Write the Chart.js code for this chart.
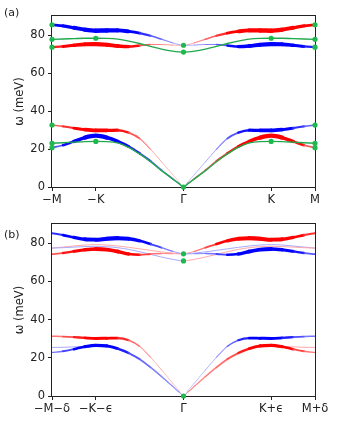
<!DOCTYPE html>
<html>
<head>
<meta charset="utf-8">
<script src="https://cdn.jsdelivr.net/npm/chart.js@4"></script>
<style>
  body { margin: 0; background: #fff; }
  #wrap { position: relative; width: 342px; height: 421px; }
  canvas { position: absolute; left: 0; }
</style>
</head>
<body>
<div id="wrap">
  <canvas id="chartA" width="342" height="210" style="top:0"></canvas>
  <canvas id="chartB" width="342" height="211" style="top:210px"></canvas>
</div>
<script>
// k-path: Γ at 0, K at ±1, M at ±1.5
const kx = [-1.5, -1.375, -1.25, -1.125, -1, -0.875, -0.75, -0.625, -0.5, -0.375, -0.25, -0.125, -0.05, 0,
            0.05, 0.125, 0.25, 0.375, 0.5, 0.625, 0.75, 0.875, 1, 1.125, 1.25, 1.375, 1.5];
const kTicks = [-1.5, -1, 0, 1, 1.5];
const kLabelsA = ['\u2212M', '\u2212K', '\u0393', 'K', 'M'];
const kLabelsB = ['\u2212M\u2212\u03b4', '\u2212K\u2212\u03f5', '\u0393', 'K+\u03f5', 'M+\u03b4'];
const yTicks = [0, 20, 40, 60, 80];

// ---- panel (a) bands (meV) ----
const aBlueTop  = [85.4,84.8,83.8,82.8,82.3,82.4,82.4,81.9,81.0,79.6,77.8,75.9,74.9, 74.6,
                   74.6,74.7,75.0,75.0,74.5,73.9,74.2,74.9,75.2,75.1,74.6,74.0,73.6];
const aRedTop   = [73.6,74.0,74.6,75.1,75.2,74.9,74.2,73.9,74.5,75.0,75.0,74.7,74.6, 74.6,
                   74.9,75.9,77.8,79.6,81.0,81.9,82.4,82.4,82.3,82.8,83.8,84.8,85.4];
const aGreenTop = [77.7,77.9,78.1,78.3,78.3,78.2,77.8,76.8,75.5,74.0,72.6,71.5,71.1, 71.0,
                   71.1,71.5,72.6,74.0,75.5,76.8,77.8,78.2,78.3,78.3,78.1,77.9,77.7];
const aRedLow   = [32.6,31.9,31.0,30.2,29.8,29.8,29.9,28.6,25.5,19.8,13.2,6.6,2.6, 0,
                   1.8,4.4,8.8,13.6,17.7,21.3,24.0,26.0,27.0,26.0,24.0,22.0,20.7];
const aBlueLow  = [20.7,22.0,24.0,26.0,27.0,26.0,24.0,21.3,17.7,13.6,8.8,4.4,1.8, 0,
                   2.6,6.6,13.2,19.8,25.5,28.6,29.9,29.8,29.8,30.2,31.0,31.9,32.6];
const aGreenLow = [23.0,23.3,23.6,23.9,24.0,23.9,23.2,20.9,17.4,13.3,8.6,4.3,1.7, 0,
                   1.7,4.3,8.6,13.3,17.4,20.9,23.2,23.9,24.0,23.9,23.6,23.3,23.0];
// band weights (0..1), shown as line thickness
const aBlueTopW = [0.45,0.6,0.75,0.9,1.0,0.95,0.9,0.7,0.45,0.3,0.2,0.1,0.05, 0.05,
                   0.05,0.08,0.12,0.2,0.35,0.6,0.8,0.85,0.9,0.85,0.7,0.5,0.35];
const aRedTopW  = [0.35,0.5,0.7,0.85,0.9,0.85,0.8,0.6,0.35,0.2,0.12,0.08,0.05, 0.05,
                   0.05,0.1,0.2,0.3,0.45,0.7,0.9,0.95,1.0,0.9,0.75,0.6,0.45];
const aRedLowW  = [0.2,0.3,0.45,0.7,0.85,0.75,0.55,0.35,0.2,0.1,0.06,0.04,0.03, 0.05,
                   0.15,0.2,0.25,0.3,0.4,0.5,0.65,0.85,1.0,0.85,0.6,0.35,0.2];
const aBlueLowW = [0.2,0.35,0.6,0.85,1.0,0.85,0.65,0.5,0.4,0.3,0.25,0.2,0.15, 0.1,
                   0.03,0.04,0.06,0.1,0.2,0.35,0.55,0.75,0.85,0.7,0.45,0.3,0.2];
const aDotX = [-1.5,-1.5,-1.5,-1.5,-1.5,-1.5, -1,-1, 0,0,0, 1,1, 1.5,1.5,1.5,1.5,1.5,1.5];
const aDotY = [85.4,77.7,73.6,32.6,23.0,20.7, 78.3,24.0, 74.6,71.0,0, 78.3,24.0, 85.4,77.7,73.6,32.6,23.0,20.7];

// ---- panel (b) bands (meV) ----
const bBlueTop  = [85.2,84.2,83.0,82.0,81.8,82.3,82.6,82.3,81.2,79.5,77.6,75.7,74.8, 74.4,
                   74.4,74.5,74.6,74.3,73.9,74.3,75.6,76.6,76.9,76.5,75.7,74.8,74.2];
const bRedTop   = [74.2,74.8,75.7,76.5,76.9,76.6,75.6,74.3,73.9,74.3,74.6,74.5,74.4, 74.4,
                   74.8,75.7,77.6,79.5,81.2,82.3,82.6,82.3,81.8,82.0,83.0,84.2,85.2];
const bThinTop1 = [77.4,77.6,77.9,78.2,78.3,78.1,77.6,76.7,75.5,74.1,72.7,71.5,70.9, 70.7,
                   70.9,71.5,72.7,74.1,75.5,76.7,77.6,78.1,78.3,78.2,77.9,77.6,77.4];
const bThinTop2 = [77.4,77.9,78.5,79.0,79.2,79.0,78.5,77.8,77.0,76.2,75.4,74.8,74.5, 74.4,
                   74.5,74.8,75.4,76.2,77.0,77.8,78.5,79.0,79.2,79.0,78.5,77.9,77.4];
const bRedLow   = [31.3,31.1,30.8,30.4,30.1,30.2,30.3,29.2,26.0,20.2,13.6,6.8,2.7, 0,
                   2.0,5.1,10.2,15.0,19.3,22.5,24.8,26.2,26.5,25.8,24.5,23.4,22.8];
const bBlueLow  = [22.8,23.4,24.5,25.8,26.5,26.2,24.8,22.5,19.3,15.0,10.2,5.1,2.0, 0,
                   2.7,6.8,13.6,20.2,26.0,29.2,30.3,30.2,30.1,30.4,30.8,31.1,31.3];
const bThinLow  = [25.4,25.5,25.7,25.9,26.0,25.7,24.3,22.0,18.8,14.6,9.9,5.0,2.0, 0,
                   2.0,5.0,9.9,14.6,18.8,22.0,24.3,25.7,26.0,25.9,25.7,25.5,25.4];
const bBlueTopW = [0.3,0.45,0.6,0.8,0.85,0.85,0.9,0.8,0.6,0.4,0.25,0.12,0.06, 0.05,
                   0.06,0.1,0.15,0.25,0.4,0.6,0.8,0.85,0.8,0.7,0.55,0.35,0.2];
const bRedTopW  = [0.2,0.35,0.55,0.7,0.8,0.85,0.8,0.6,0.4,0.25,0.15,0.1,0.06, 0.05,
                   0.06,0.12,0.25,0.4,0.6,0.8,0.9,0.85,0.85,0.8,0.6,0.45,0.3];
const bRedLowW  = [0.15,0.25,0.35,0.5,0.6,0.6,0.5,0.3,0.15,0.08,0.05,0.04,0.03, 0.05,
                   0.1,0.12,0.15,0.2,0.25,0.35,0.5,0.65,0.7,0.6,0.4,0.25,0.15];
const bBlueLowW = [0.15,0.25,0.4,0.6,0.7,0.65,0.5,0.35,0.25,0.2,0.15,0.12,0.1, 0.05,
                   0.03,0.04,0.05,0.08,0.15,0.3,0.5,0.6,0.6,0.5,0.35,0.25,0.15];
const bDotX = [0, 0, 0];
const bDotY = [74.4, 70.7, 0];

const RED = [255, 0, 0], BLUE = [0, 0, 255];
const GREEN = '#22a84c', DOT = '#1fb84f';
const FONT = '"DejaVu Sans", sans-serif';

// fade colour towards white for low weight
function shade(rgb, w) {
    const a = Math.min(1, 0.25 + 1.5 * w);
    return 'rgb(' + rgb.map(c => Math.round(c * a + 255 * (1 - a))).join(',') + ')';
}

function band(ys, ws, rgbL, rgbR) {
    const wAt = i => Array.isArray(ws) ? ws[i] : ws;
    const wSeg = c => (wAt(c.p0DataIndex) + wAt(c.p1DataIndex)) / 2;
    return {
        data: kx.map((x, i) => ({ x: x, y: ys[i] })),
        pointRadius: 0,
        borderWidth: 1,
        borderColor: shade(rgbL, 0.1),
        cubicInterpolationMode: 'monotone',
        borderCapStyle: 'round',
        segment: {
            borderWidth: c => 0.6 + 4.0 * wSeg(c),
            borderColor: c => shade(kx[c.p0DataIndex] < 0 ? rgbL : rgbR, wSeg(c))
        }
    };
}

function greenLine(ys) {
    return {
        data: kx.map((x, i) => ({ x: x, y: ys[i] })),
        pointRadius: 0,
        borderWidth: 1.4,
        borderColor: GREEN,
        cubicInterpolationMode: 'monotone'
    };
}

function dots(xs, ys) {
    return {
        data: xs.map((x, i) => ({ x: x, y: ys[i] })),
        showLine: false,
        pointRadius: 2.6,
        pointBorderWidth: 0,
        pointBackgroundColor: DOT,
        clip: false
    };
}

// spines + panel letter
const framePlugin = {
    id: 'frame',
    beforeDatasetsDraw(chart, args, opts) {
        const { ctx, chartArea: a } = chart;
        ctx.save();
        ctx.strokeStyle = '#222';
        ctx.lineWidth = 1;
        ctx.strokeRect(a.left - 0.5, a.top - 0.5, a.right - a.left + 1, a.bottom - a.top + 1);
        ctx.fillStyle = '#222';
        ctx.font = '11px ' + FONT;
        ctx.textBaseline = 'middle';
        ctx.fillText(opts.label, 4, opts.labelY);
        ctx.restore();
    }
};

function makeChart(id, datasets, kLabels, label, labelY, padTop, xHeight) {
    const ctx = document.getElementById(id).getContext('2d');
    return new Chart(ctx, {
        type: 'line',
        data: { datasets: datasets },
        options: {
            responsive: false,
            animation: false,
            layout: { padding: { left: 0, right: 27, top: padTop, bottom: 0 } },
            plugins: {
                legend: { display: false },
                tooltip: { enabled: false },
                frame: { label: label, labelY: labelY }
            },
            scales: {
                x: {
                    type: 'linear',
                    min: -1.5,
                    max: 1.5,
                    afterBuildTicks: s => { s.ticks = kTicks.map(v => ({ value: v })); },
                    afterFit: s => { s.height = xHeight; },
                    border: { display: false },
                    grid: { drawOnChartArea: false, drawTicks: true, tickLength: 4, color: '#222' },
                    ticks: {
                        autoSkip: false, maxRotation: 0, padding: 2, color: '#222',
                        font: { family: FONT, size: 11.5 },
                        callback: (v, i) => kLabels[i]
                    }
                },
                y: {
                    min: 0,
                    max: 90,
                    afterBuildTicks: s => { s.ticks = yTicks.map(v => ({ value: v })); },
                    afterFit: s => { s.width = 52; },
                    border: { display: false },
                    grid: { drawOnChartArea: false, drawTicks: true, tickLength: 4, color: '#222' },
                    ticks: { padding: 3, color: '#222', font: { family: FONT, size: 11.5 } },
                    title: {
                        display: true, text: '\u03c9 (meV)', color: '#222',
                        font: { family: FONT, size: 11.5 }, padding: { top: 13, bottom: 0 }
                    }
                }
            }
        },
        plugins: [framePlugin]
    });
}

// first dataset is drawn on top
makeChart('chartA', [
    dots(aDotX, aDotY),
    greenLine(aGreenTop),
    greenLine(aGreenLow),
    band(aBlueTop, aBlueTopW, BLUE, BLUE),
    band(aRedTop, aRedTopW, RED, RED),
    band(aBlueLow, aBlueLowW, BLUE, BLUE),
    band(aRedLow, aRedLowW, RED, RED)
], kLabelsA, '(a)', 13, 16, 23);

makeChart('chartB', [
    dots(bDotX, bDotY),
    band(bBlueTop, bBlueTopW, BLUE, BLUE),
    band(bRedTop, bRedTopW, RED, RED),
    band(bBlueLow, bBlueLowW, BLUE, BLUE),
    band(bRedLow, bRedLowW, RED, RED),
    band(bThinTop1, 0.08, BLUE, RED),
    band(bThinTop2, 0.08, RED, BLUE),
    band(bThinLow, 0.08, BLUE, RED)
], kLabelsB, '(b)', 25, 14, 25);
</script>
</body>
</html>
